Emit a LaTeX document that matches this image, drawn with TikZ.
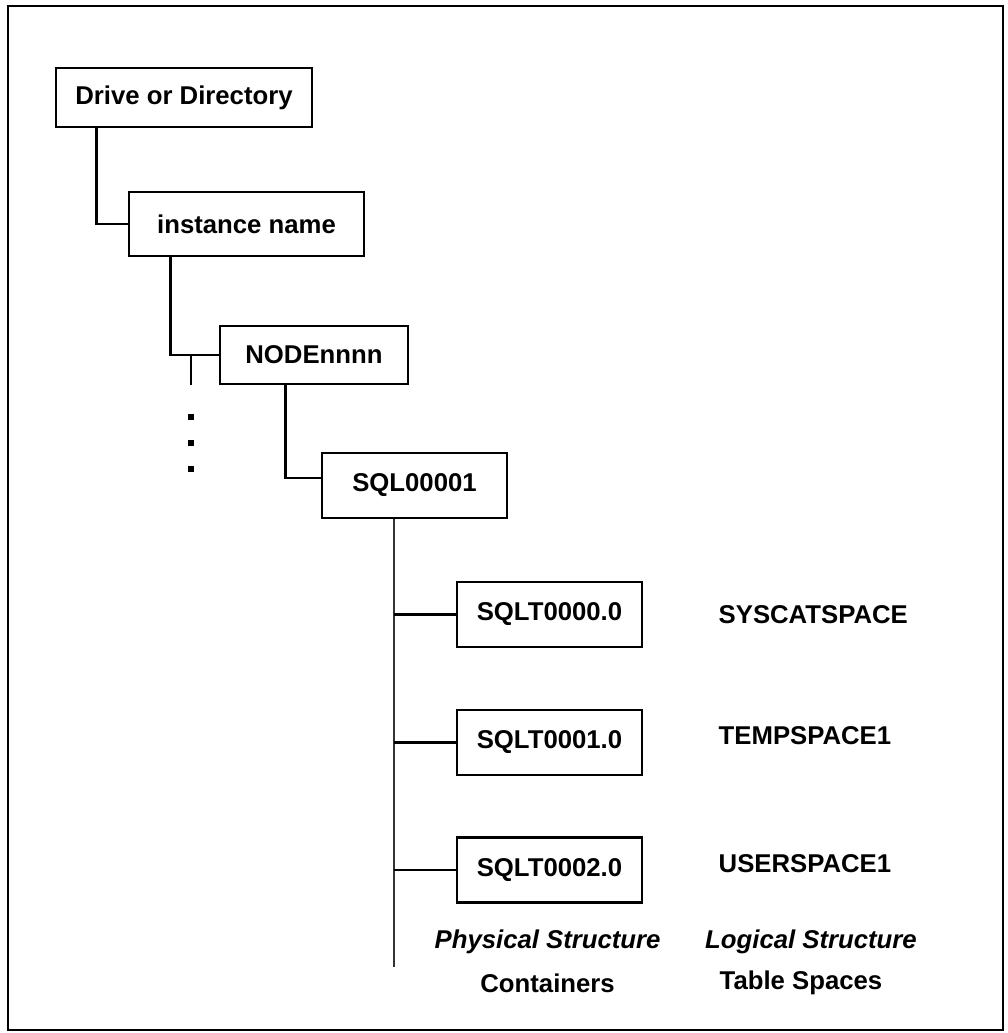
\documentclass[tikz,border=0pt]{standalone}
\usepackage{fontspec}
\setmainfont{Liberation Sans}
\usetikzlibrary{positioning}
\newcommand{\lbl}{\fontsize{18.3}{22}\selectfont\bfseries}

\begin{document}
\begin{tikzpicture}[
  font=\lbl,
  bx/.style={draw, line width=2pt, inner sep=0pt, align=center},
  cbx/.style={bx, minimum width=4.625cm, minimum height=1.625cm},
  ln/.style={line width=1.8pt},
  tk/.style={line width=1.4pt, draw=black!80},
  dt/.style={fill, inner sep=0pt, minimum size=1.6mm},
  tag/.style={inner sep=0pt, anchor=west},
  capt/.style={inner sep=0pt, anchor=base},
]
\useasboundingbox (0,0) rectangle (25.2,25.825);
\draw[line width=1.6pt] (0.2,0.075) rectangle (25.075,25.675);

% ---------------- directory path ----------------
\node[bx, minimum width=6.4cm, minimum height=1.475cm] (drive) at (4.6,23.3875) {Drive or Directory};
\node[bx, minimum width=5.875cm, minimum height=1.6cm] (inst) at (6.1625,20.225) {instance name};
\node[bx, minimum width=4.7cm, minimum height=1.45cm] (nd) at (7.85,16.95) {NODEnnnn};
\node[bx, minimum width=4.625cm, minimum height=1.625cm] (sq) at (10.3625,13.6875) {SQL00001};
\draw[ln] ([xshift=1.05cm]drive.south west) |- (inst.west);
\draw[ln] ([xshift=1.075cm]inst.south west) |- (nd.west);
\draw[ln] ([xshift=1.675cm]nd.south west) |- ([yshift=0.19cm]sq.west);
% further nodes
\coordinate (stub) at (4.775,16.2);
\draw[ln] (stub |- nd.west) -- (stub);
\foreach \y [count=\i] in {15.4,14.75,14.1}
  \node[dt] (d\i) at (4.775,\y) {};

% ---------------- containers and table spaces ----------------
\node[cbx] (c0) at (13.7375,10.4625) {SQLT0000.0};
\node[cbx] (c1) at (13.7375,7.2625) {SQLT0001.0};
\node[cbx] (c2) at (13.7375,4.075) {SQLT0002.0};
\node[tag, right=1.875cm of c0] (l0) {SYSCATSPACE};
\node[tag, right=1.875cm of c1, yshift=0.18cm] (l1) {TEMPSPACE1};
\node[tag, right=1.875cm of c2, yshift=0.15cm] (l2) {USERSPACE1};
\coordinate (tend) at (9.85,1.65);
\draw[tk] (sq.south -| tend) -- (tend);
\foreach \c in {c0,c1,c2}
  \draw[ln] (\c.west -| tend) -- (\c.west);

% column captions
\node[capt, font=\lbl\itshape] (phys) at (13.69,2.1) {Physical Structure};
\node[capt] (cont) at (13.69,1.0) {Containers};
\node[capt, font=\lbl\itshape] (logi) at (20.275,2.1) {Logical Structure};
\node[capt] (tbsp) at (20.025,1.08) {Table Spaces};
\end{tikzpicture}
\end{document}
